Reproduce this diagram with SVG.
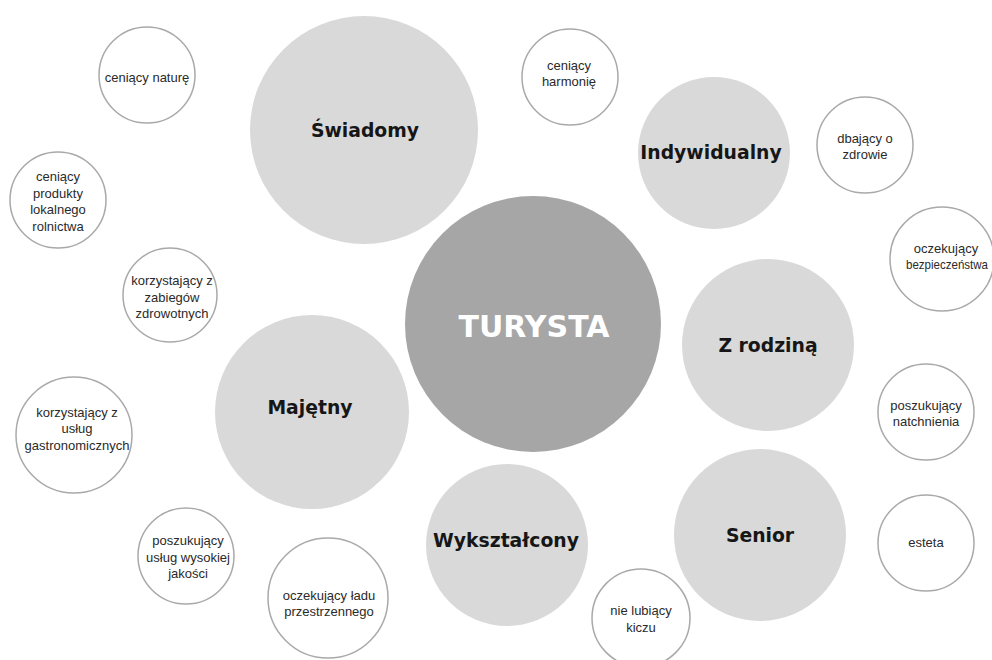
<svg xmlns="http://www.w3.org/2000/svg" width="992" height="660" viewBox="0 0 992 660">
<style>
.big{fill:#d9d9d9}
.core{fill:#a6a6a6}
.small{fill:#ffffff;stroke:#a9a9a9;stroke-width:1.5}
.lbl{font-family:"DejaVu Sans",sans-serif;font-weight:bold;font-size:18.8px;fill:#161616;text-anchor:middle}
.core-t{font-family:"DejaVu Sans",sans-serif;font-weight:bold;font-size:30px;fill:#ffffff;text-anchor:middle}
.st{font-family:"Liberation Sans",Arial,sans-serif;font-size:13px;fill:#2a2a2a;text-anchor:middle}
</style>
<rect width="992" height="660" fill="#ffffff"/>
<g id="connectors"></g>

<g id="turysta"><circle class="core" cx="533" cy="324" r="128"/><text class="core-t" x="534" y="337">TURYSTA</text></g>

<g id="swiadomy"><circle class="big" cx="364" cy="130" r="114"/><text class="lbl" x="365" y="137">Świadomy</text></g>
<g id="indywidualny"><circle class="big" cx="714" cy="153" r="76"/><text class="lbl" x="711" y="159">Indywidualny</text></g>
<g id="zrodzina"><circle class="big" cx="768" cy="345" r="86"/><text class="lbl" x="768" y="352">Z rodziną</text></g>
<g id="senior"><circle class="big" cx="760" cy="535" r="86"/><text class="lbl" x="760" y="542">Senior</text></g>
<g id="wyksztalcony"><circle class="big" cx="507" cy="545" r="81"/><text class="lbl" x="506" y="547">Wykształcony</text></g>
<g id="majetny"><circle class="big" cx="312" cy="412" r="97"/><text class="lbl" x="310" y="414">Majętny</text></g>

<g id="n1"><circle class="small" cx="147" cy="75" r="48"/><text class="st" x="147" y="82">ceniący naturę</text></g>
<g id="n2"><circle class="small" cx="58" cy="200" r="48"/><text class="st"><tspan x="58" y="181">ceniący</tspan><tspan x="58" y="198">produkty</tspan><tspan x="58" y="214">lokalnego</tspan><tspan x="58" y="231">rolnictwa</tspan></text></g>
<g id="n3"><circle class="small" cx="170" cy="295" r="47"/><text class="st"><tspan x="172" y="285">korzystający z</tspan><tspan x="172" y="302">zabiegów</tspan><tspan x="172" y="318">zdrowotnych</tspan></text></g>
<g id="n4"><circle class="small" cx="74" cy="435" r="58"/><text class="st"><tspan x="77" y="417">korzystający z</tspan><tspan x="77" y="433">usług</tspan><tspan x="77" y="450">gastronomicznych</tspan></text></g>
<g id="n5"><circle class="small" cx="186" cy="556" r="48"/><text class="st"><tspan x="188" y="545">poszukujący</tspan><tspan x="188" y="562">usług wysokiej</tspan><tspan x="188" y="578">jakości</tspan></text></g>
<g id="n6"><circle class="small" cx="328" cy="598" r="60"/><text class="st"><tspan x="329" y="600">oczekujący ładu</tspan><tspan x="329" y="616">przestrzennego</tspan></text></g>
<g id="n7"><circle class="small" cx="570" cy="77" r="48"/><text class="st"><tspan x="569" y="70">ceniący</tspan><tspan x="569" y="86">harmonię</tspan></text></g>
<g id="n8"><circle class="small" cx="865" cy="145" r="48"/><text class="st"><tspan x="865" y="143">dbający o</tspan><tspan x="865" y="159">zdrowie</tspan></text></g>
<g id="n9"><circle class="small" cx="942" cy="259" r="52"/><text class="st"><tspan x="946" y="253">oczekujący</tspan><tspan x="947" y="269" textLength="82" lengthAdjust="spacingAndGlyphs">bezpieczeństwa</tspan></text></g>
<g id="n10"><circle class="small" cx="926" cy="412" r="48"/><text class="st"><tspan x="926" y="410">poszukujący</tspan><tspan x="926" y="426">natchnienia</tspan></text></g>
<g id="n11"><circle class="small" cx="926" cy="543" r="48"/><text class="st" x="926" y="547">esteta</text></g>
<g id="n12"><circle class="small" cx="641" cy="618" r="49"/><text class="st"><tspan x="641" y="615">nie lubiący</tspan><tspan x="641" y="632">kiczu</tspan></text></g>
</svg>
